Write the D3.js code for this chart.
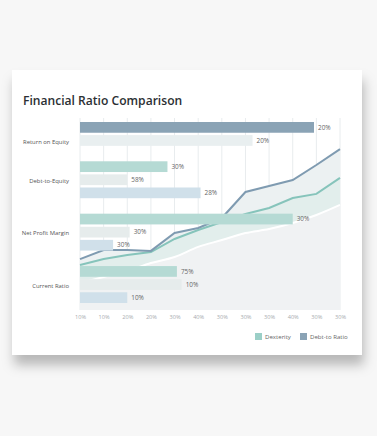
<!DOCTYPE html>
<html><head><meta charset="utf-8">
<script src="https://cdn.jsdelivr.net/npm/d3@7"></script>
<style>
html,body{margin:0;padding:0;background:#f7f7f7;}
svg{display:block;font-family:"Open Sans","Noto Sans",sans-serif;}
</style></head>
<body><svg id="c" width="377" height="436"></svg>
<script>
// ---- data ----
const title = "Financial Ratio Comparison";
const categories = ["Return on Equity", "Debt-to-Equity", "Net Profit Margin", "Current Ratio"];
// bar values per category (on the 0-110 x scale) and their printed labels
const barValues = [[99, 73], [37, 20, 51], [90, 21, 14], [41, 43, 20]];
const barLabels = [["20%", "20%"], ["30%", "58%", "28%"], ["30%", "30%", "30%"], ["75%", "10%", "10%"]];
const barKinds  = [["dark", "pale"], ["teal", "grey", "blue"], ["teal", "grey", "blue"], ["teal", "grey", "blue"]];
const tickValues = [0, 10, 20, 30, 40, 50, 60, 70, 80, 90, 100, 110];
const tickLabels = ["10%", "10%", "20%", "20%", "30%", "40%", "30%", "30%", "30%", "40%", "30%", "30%"];
const debtRatio  = [26.8, 31.6, 31.6, 31.1, 40.5, 43.2, 48.4, 62.1, 65.3, 68.4, 76.3, 84.7];
const dexterity  = [23.7, 26.8, 28.9, 30.5, 37.4, 42.1, 46.3, 50.5, 53.7, 58.9, 61.1, 69.5];
const baseline   = [14.2, 17.4, 20.5, 24.7, 27.9, 33.2, 36.8, 40.5, 42.6, 45.8, 50.0, 55.3];
const legendItems = ["Dexterity", "Debt-to Ratio"];

// ---- styles ----
const colors = {dark:"#8aa3b5", pale:"#e9eff0", teal:"#b5dad4", grey:"#e6ecec", blue:"#d0e0ea"};
const svg = d3.select("#c");
const defs = svg.append("defs");
const f = defs.append("filter").attr("id","sh").attr("x","-10%").attr("y","-10%").attr("width","120%").attr("height","140%");
f.append("feDropShadow").attr("dx",2).attr("dy",10).attr("stdDeviation",6).attr("flood-color","#000").attr("flood-opacity",0.26);

svg.append("rect").attr("x",12).attr("y",70).attr("width",350).attr("height",285)
  .attr("fill","#fff").attr("filter","url(#sh)");

svg.append("text").attr("x",23).attr("y",105).text(title)
  .attr("font-size",12.1).attr("font-weight",600).attr("fill","#2b2f33");

const pLeft = 80, pRight = 340, pTop = 118, pBottom = 310;
const x = d3.scaleLinear().domain([0,110]).range([pLeft,pRight]);
const y = d3.scaleLinear().domain([0,100]).range([pBottom, 120]);

// gridlines
svg.append("g").selectAll("line").data(tickValues).join("line")
  .attr("x1",d=>x(d)).attr("x2",d=>x(d)).attr("y1",pTop).attr("y2",pBottom)
  .attr("stroke","#e8ecee").attr("stroke-width",1);

// areas
const idx = d3.range(tickValues.length);
const lineGen = (arr, curve) => d3.line().x(i=>x(tickValues[i])).y(i=>y(arr[i])).curve(curve||d3.curveLinear);
svg.append("path").datum(idx).attr("d", d3.area().x(i=>x(tickValues[i])).y0(pBottom).y1(i=>y(baseline[i])).curve(d3.curveMonotoneX))
  .attr("fill","#f0f2f3");
svg.append("path").datum(idx).attr("d", d3.area().x(i=>x(tickValues[i])).y0(i=>y(baseline[i])).y1(i=>y(dexterity[i])).curve(d3.curveLinear))
  .attr("fill","#e2eeec");
svg.append("path").datum(idx).attr("d", d3.area().x(i=>x(tickValues[i])).y0(i=>y(dexterity[i])).y1(i=>y(debtRatio[i])))
  .attr("fill","#ecf1f2");
svg.append("path").datum(idx).attr("d", lineGen(baseline, d3.curveMonotoneX)).attr("fill","none").attr("stroke","#fff").attr("stroke-width",2);
svg.append("path").datum(idx).attr("d", lineGen(dexterity)).attr("fill","none").attr("stroke","#86c4bb").attr("stroke-width",2);
svg.append("path").datum(idx).attr("d", lineGen(debtRatio)).attr("fill","none").attr("stroke","#7f9bb1").attr("stroke-width",2);

// bars
const rows = [];
categories.forEach((c,ci)=>{
  barValues[ci].forEach((v,bi)=>rows.push({key:c+"|"+bi, cat:c, ci, bi, v, label:barLabels[ci][bi], kind:barKinds[ci][bi]}));
  if (ci < categories.length-1) rows.push({key:"gap"+ci, gap:true});
});
const yb = d3.scaleBand().domain(rows.map(r=>r.key)).range([122,303]).paddingInner(0.18);
const bars = rows.filter(r=>!r.gap);
svg.append("g").selectAll("rect").data(bars).join("rect")
  .attr("x",x(0)).attr("y",d=>yb(d.key)).attr("width",d=>x(d.v)-x(0)).attr("height",yb.bandwidth())
  .attr("fill",d=>colors[d.kind]);
svg.append("g").selectAll("text").data(bars).join("text")
  .attr("x",d=>x(d.v)+4).attr("y",d=>yb(d.key)+yb.bandwidth()/2).attr("dy","0.35em")
  .attr("font-size",6.4).attr("fill","#666").text(d=>d.label);

// category labels
svg.append("g").selectAll("text").data(categories).join("text")
  .attr("x",69).attr("y",(c,ci)=>yb(c+"|1")+yb.bandwidth()/2 + 1).attr("dy","0.35em")
  .attr("text-anchor","end").attr("font-size",5.9).attr("fill","#555").text(c=>c);

// x axis labels
const ax = svg.append("g").attr("transform",`translate(0,${pBottom})`)
  .call(d3.axisBottom(x).tickValues(tickValues).tickFormat((d,i)=>tickLabels[i]).tickSize(0).tickPadding(5));
ax.select(".domain").remove();
ax.selectAll("text").attr("font-size",5.6).attr("fill","#a8acaf").attr("font-family","'Open Sans',sans-serif");

// legend
const lg = svg.append("g").attr("transform","translate(255,333)");
const legColors = ["#9bcfc7", "#8aa3b5"];
const lgOff = [0, 45];
legendItems.forEach((t,i)=>{
  lg.append("rect").attr("x",lgOff[i]).attr("y",0).attr("width",7).attr("height",7).attr("fill",legColors[i]);
  lg.append("text").attr("x",lgOff[i]+10).attr("y",3.5).attr("dy","0.35em").attr("font-size",6.1).attr("fill","#666").text(t);
});
</script></body></html>
